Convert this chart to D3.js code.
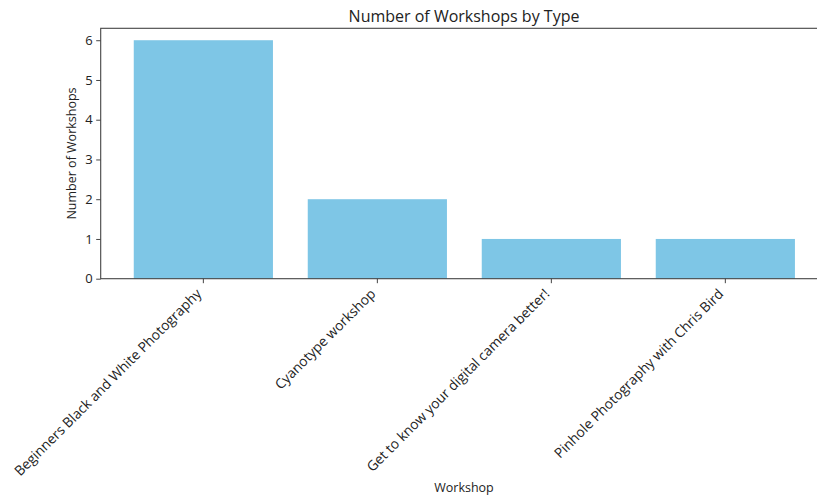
<!DOCTYPE html>
<html>
<head>
<meta charset="utf-8">
<script src="https://cdn.jsdelivr.net/npm/d3@7"></script>
<style>
  body { margin: 0; background: #fff; }
  svg text { font-family: "Open Sans", sans-serif; fill: #222; }
</style>
</head>
<body>
<svg width="817" height="497"></svg>
<script>
// data
const workshops = [
  'Beginners Black and White Photography',
  'Cyanotype workshop',
  'Get to know your digital camera better!',
  'Pinhole Photography with Chris Bird'
];
const counts = [6, 2, 1, 1];
const yTicks = [0, 1, 2, 3, 4, 5, 6];

const svg = d3.select('svg');
const plotLeft = 100.7, plotRight = 828, plotTop = 28.3, plotBottom = 278.7;

const x = d3.scaleBand()
    .domain(workshops)
    .range([plotLeft, plotRight])
    .paddingInner(0.2)
    .paddingOuter(0.19);

const y = d3.scaleLinear()
    .domain([0, 6.3])
    .range([plotBottom, plotTop]);

// bars
svg.append('g')
  .selectAll('rect')
  .data(workshops)
  .enter()
  .append('rect')
    .attr('x', d => x(d))
    .attr('y', (d, i) => y(counts[i]))
    .attr('width', x.bandwidth())
    .attr('height', (d, i) => y(0) - y(counts[i]))
    .attr('fill', '#7ec6e6');

// frame (right edge falls off the canvas like in the original)
svg.append('rect')
    .attr('x', plotLeft).attr('y', plotTop)
    .attr('width', plotRight - plotLeft).attr('height', plotBottom - plotTop)
    .attr('fill', 'none')
    .attr('stroke', '#444')
    .attr('stroke-width', 1.1);

// y axis
const yAxis = svg.append('g')
    .attr('transform', `translate(${plotLeft},0)`)
    .call(d3.axisLeft(y).tickValues(yTicks).tickFormat(d3.format('d')).tickSize(4.5).tickPadding(3.5));
yAxis.select('.domain').remove();
yAxis.selectAll('line').attr('stroke', '#444');
yAxis.selectAll('text').attr('font-size', 13).style('font-family', '"Open Sans", sans-serif').attr('fill', '#222');

// x axis, labels turned 45 degrees with their top right corner at the tick
const xAxis = svg.append('g')
    .attr('transform', `translate(0,${plotBottom})`)
    .call(d3.axisBottom(x).tickSize(4.5).tickSizeOuter(0));
xAxis.select('.domain').remove();
xAxis.selectAll('line').attr('stroke', '#444');
xAxis.selectAll('text')
    .attr('font-size', 13.8)
    .style('font-family', '"Open Sans", sans-serif')
    .attr('fill', '#222')
    .attr('text-anchor', 'end')
    .attr('x', 0)
    .attr('y', 0)
    .attr('dy', 0)
    .attr('transform', 'translate(-1,16) rotate(-45)');

// titles
svg.append('text')
    .attr('x', 464).attr('y', 22)
    .attr('text-anchor', 'middle')
    .attr('font-size', 16)
    .text('Number of Workshops by Type');

svg.append('text')
    .attr('transform', `translate(76,${(plotTop + plotBottom) / 2}) rotate(-90)`)
    .attr('text-anchor', 'middle')
    .attr('font-size', 12.5)
    .text('Number of Workshops');

svg.append('text')
    .attr('x', 464).attr('y', 492)
    .attr('text-anchor', 'middle')
    .attr('font-size', 12.5)
    .text('Workshop');
</script>
</body>
</html>
